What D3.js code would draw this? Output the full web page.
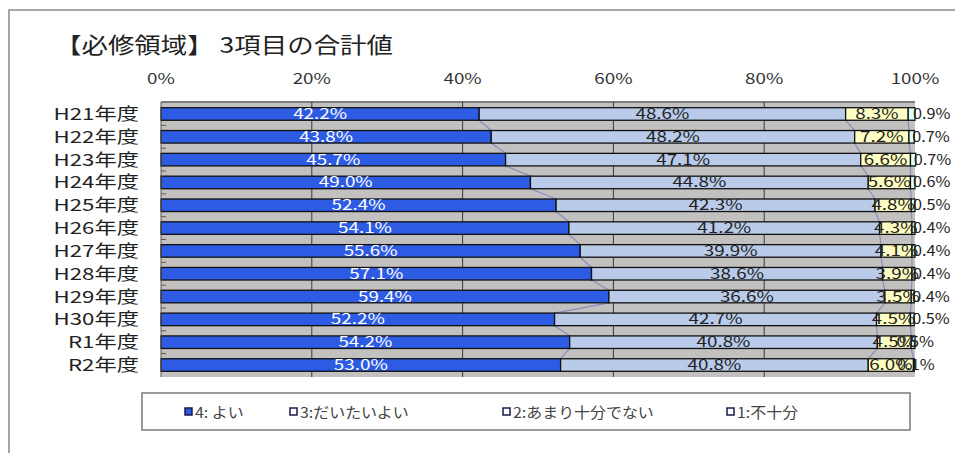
<!DOCTYPE html>
<html><head><meta charset="utf-8">
<script src="https://cdn.jsdelivr.net/npm/d3@7"></script>
<style>body{margin:0;background:#fff}svg{display:block}</style>
</head><body>
<svg id="c" width="955" height="453"></svg>
<script>
const title = "【必修領域】 3項目の合計値";
const categories = ["H21年度","H22年度","H23年度","H24年度","H25年度","H26年度","H27年度","H28年度","H29年度","H30年度","R1年度","R2年度"];
const seriesNames = ["4: よい","3:だいたいよい","2:あまり十分でない","1:不十分"];
const s4 = [42.2,43.8,45.7,49.0,52.4,54.1,55.6,57.1,59.4,52.2,54.2,53.0];
const s3 = [48.6,48.2,47.1,44.8,42.3,41.2,39.9,38.6,36.6,42.7,40.8,40.8];
const s2 = [8.3,7.2,6.6,5.6,4.8,4.3,4.1,3.9,3.5,4.5,4.5,6.0];
const s1 = [0.9,0.7,0.7,0.6,0.5,0.4,0.4,0.4,0.4,0.5,0.5,0.1];
const tickValues = [0,20,40,60,80,100];
const colors = ["#2d5be3","#b9cbe9","#ffffc4","#dcffff"];
const labelColors = ["#ffffff","#222","#222","#222"];

const svg = d3.select("#c");
const SX = 1.3;
const FONT = "'Noto Sans CJK JP','Noto Sans',sans-serif";

// frame
svg.append("path").attr("d","M9,453 V10 H955").attr("fill","none").attr("stroke","#8a8a8a").attr("stroke-width",1.5);

const L=161,R=915,T=102,B=377;
const x = d3.scaleLinear().domain([0,100]).range([L,R]);
const y = d3.scaleBand().domain(categories).range([T,B]).paddingInner(0.45).paddingOuter(0.25);

const series = [s4,s3,s2,s1];
const rows = categories.map((c,i)=>({cat:c, vals:series.map(s=>s[i])}));
rows.forEach(r=>{let acc=0; r.seg=r.vals.map(v=>{const a=acc; acc+=v; return [a,acc];});});

// plot background
svg.append("rect").attr("x",L).attr("y",T).attr("width",R-L).attr("height",B-T).attr("fill","#c3c1bf");
svg.append("line").attr("x1",L).attr("x2",R).attr("y1",T).attr("y2",T).attr("stroke","#7d7d7d").attr("stroke-width",2);

// gridlines
svg.append("g").selectAll("line").data(tickValues.filter(t=>t>0&&t<100)).join("line")
  .attr("x1",d=>x(d)).attr("x2",d=>x(d)).attr("y1",T).attr("y2",B).attr("stroke","#3a3a3a").attr("stroke-width",1);

// series lines
const sl = svg.append("g");
for(let k=0;k<3;k++){
  for(let i=0;i<rows.length-1;i++){
    sl.append("line")
      .attr("x1",x(rows[i].seg[k][1])).attr("y1",y(rows[i].cat)+y.bandwidth())
      .attr("x2",x(rows[i+1].seg[k][1])).attr("y2",y(rows[i+1].cat))
      .attr("stroke","#8b8bbf").attr("stroke-width",1.2);
  }
}

// bars
const bars = svg.append("g");
rows.forEach(r=>{
  r.seg.forEach((s,k)=>{
    bars.append("rect").attr("x",x(s[0])).attr("y",y(r.cat)).attr("width",x(s[1])-x(s[0])).attr("height",y.bandwidth())
      .attr("fill",colors[k]).attr("stroke","#111").attr("stroke-width",1.3);
  });
});

// y tick marks
svg.append("g").selectAll("line").data(categories.slice(1)).join("line")
  .attr("x1",L).attr("x2",L+5).attr("y1",d=>y(d)-y.step()*y.paddingInner()/2).attr("y2",d=>y(d)-y.step()*y.paddingInner()/2)
  .attr("stroke","#6b5a3a").attr("stroke-width",1);
svg.append("line").attr("x1",L).attr("x2",L).attr("y1",T).attr("y2",B).attr("stroke","#555").attr("stroke-width",1);

function stext(g, tx, ty, txt, size, anchor, fill, sx){
  return g.append("text").attr("transform",`translate(${tx},${ty}) scale(${sx||SX},1)`)
    .attr("text-anchor",anchor).attr("font-family",FONT).attr("font-size",size).attr("fill",fill).text(txt);
}

// data labels
const lab = svg.append("g");
rows.forEach((r,i)=>{
  const cy = y(r.cat)+y.bandwidth()/2+5;
  r.seg.forEach((s,k)=>{
    const t = r.vals[k].toFixed(1)+"%";
    if(k<3){
      stext(lab,(x(s[0])+x(s[1]))/2,cy,t,14.5,"middle",labelColors[k]);
    } else if(i<10){
      stext(lab,x(s[1])-2,cy,t,14.5,"start",labelColors[k],1.12);
    } else {
      stext(lab,(x(s[0])+x(s[1]))/2+2,cy,t,14.5,"middle",labelColors[k],1.12);
    }
  });
});

// category labels
const yl = svg.append("g");
categories.forEach(c=>{
  stext(yl,139,y(c)+y.bandwidth()/2+6,c,16.5,"end","#222",1.35);
});

// top axis tick labels
const xl = svg.append("g");
tickValues.forEach(t=>stext(xl,x(t),84,t+"%",14.5,"middle","#333"));

// title
svg.append("text").attr("x",55).attr("y",53).attr("font-family",FONT).attr("font-size",22)
  .attr("textLength",338).attr("lengthAdjust","spacingAndGlyphs").attr("fill","#222").text(title);

// legend
svg.append("rect").attr("x",142).attr("y",393).attr("width",768).attr("height",37)
  .attr("fill","#fff").attr("stroke","#7a7a7a").attr("stroke-width",1.5);
const legX = [185,290,503,727];
const lg = svg.append("g");
seriesNames.forEach((n,k)=>{
  lg.append("rect").attr("x",legX[k]).attr("y",408).attr("width",7).attr("height",7)
    .attr("fill",k===0?colors[0]:"#fff").attr("stroke","#1a1a4a").attr("stroke-width",1.5);
  stext(lg,legX[k]+10,418,n,14.5,"start","#444",1.1);
});
</script>
</body></html>
